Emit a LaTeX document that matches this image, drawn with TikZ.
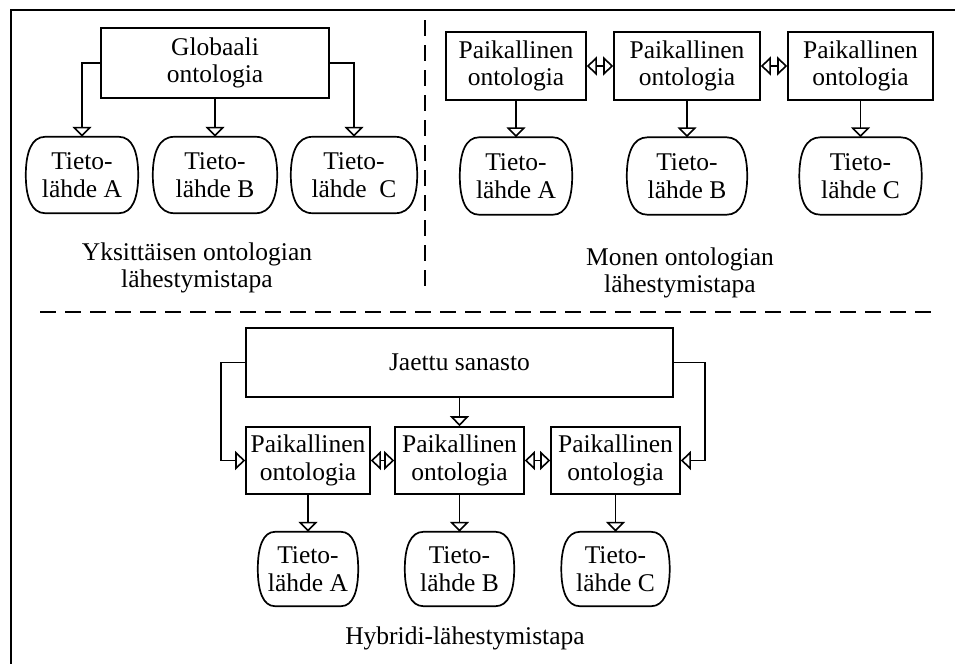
\documentclass[tikz,border=0pt]{standalone}
\usepackage{fontspec}
\setmainfont{Liberation Serif}
\usetikzlibrary{arrows.meta,calc}
\tikzset{
  txt/.style={font=\fontsize{25.5}{27.5}\selectfont, align=center, inner sep=0pt},
  box/.style={txt, draw, line width=1.7pt},
  blobtext/.style={txt},
  tip/.tip={Triangle[open,length=10pt,width=19pt,line width=1.6pt]},
  tri/.style={line width=1.7pt, -tip},
  dtri/.style={line width=1.7pt, tip-tip},
  sep/.style={line width=1.7pt, dash pattern=on 16pt off 9pt},
  blobline/.style={line width=1.7pt},
}
\newcommand\blob[6]{%
  \node[blobtext, minimum width=#4pt, minimum height=#5pt] (#1) at (#2,#3) {#6};
  \pgfmathsetmacro\blobA{#4/2}%
  \pgfmathsetmacro\blobH{#5/2}%
  \draw[blobline]
    ($(#1.north)+({-0.66*\blobA},0)$) -- ($(#1.north)+({0.66*\blobA},0)$)
    .. controls ($(#1.north)+({0.9*\blobA},0)$) and ($(#1.east)+(0,{-0.6*\blobH})$) .. (#1.east)
    .. controls ($(#1.east)+(0,{0.6*\blobH})$) and ($(#1.south)+({0.9*\blobA},0)$) .. ($(#1.south)+({0.66*\blobA},0)$)
    -- ($(#1.south)+({-0.66*\blobA},0)$)
    .. controls ($(#1.south)+({-0.9*\blobA},0)$) and ($(#1.west)+(0,{0.6*\blobH})$) .. (#1.west)
    .. controls ($(#1.west)+(0,{-0.6*\blobH})$) and ($(#1.north)+({-0.9*\blobA},0)$) .. cycle;
}
\begin{document}
\begin{tikzpicture}[x=1pt,y=-1pt]
\useasboundingbox (0,0) rectangle (955,664);
% frame
\coordinate (fTR) at (955,10);
\coordinate (fTL) at (11,10);
\coordinate (fBL) at (11,664);
\draw[line width=2.2pt] (fTR) -- (fTL) -- (fBL);
% separators
\coordinate (hs1) at (40,312);
\coordinate (hs2) at (935,312);
\draw[sep] (hs1) -- (hs2);
\coordinate (vs1) at (425,20);
\coordinate (vs2) at (425,292);
\draw[sep] (vs1) -- (vs2);

% ---- single ontology
\node[box, minimum width=228pt, minimum height=70pt] (glob) at (215,63) {Globaali\\ontologia};
\blob{sA}{82}{175}{112}{76}{Tieto-\\lähde A}
\blob{sB}{215}{175}{124}{76}{Tieto-\\lähde B}
\blob{sC}{354}{175}{126}{76}{Tieto-\\lähde\ \ C}
\draw[tri] (glob.west) -| (sA.north);
\draw[tri] (glob.south) -- (sB.north);
\draw[tri] (glob.east) -| (sC.north);
\node[txt] (cap1) at (197,268) {Yksittäisen ontologian\\lähestymistapa};

% ---- multiple ontologies
\node[box, minimum width=140pt, minimum height=68pt] (m1) at (516,66) {Paikallinen\\ontologia};
\node[box, minimum width=146pt, minimum height=68pt] (m2) at (687,66) {Paikallinen\\ontologia};
\node[box, minimum width=145pt, minimum height=68pt] (m3) at (860.5,66) {Paikallinen\\ontologia};
\blob{mA}{516}{176}{112}{77}{Tieto-\\lähde A}
\blob{mB}{687}{176}{120}{77}{Tieto-\\lähde B}
\blob{mC}{860.5}{176}{122}{77}{Tieto-\\lähde C}
\draw[dtri] (m1.east) -- (m2.west);
\draw[dtri] (m2.east) -- (m3.west);
\draw[tri] (m1.south) -- (mA.north);
\draw[tri] (m2.south) -- (mB.north);
\draw[tri] (m3.south) -- (mC.north);
\node[txt] (cap2) at (680,273) {Monen ontologian\\lähestymistapa};

% ---- hybrid
\node[box, minimum width=427pt, minimum height=69pt] (js) at (459.5,362.5) {Jaettu sanasto};
\node[box, minimum width=124pt, minimum height=67pt] (h1) at (308,460.5) {Paikallinen\\ontologia};
\node[box, minimum width=129pt, minimum height=67pt] (h2) at (459.5,460.5) {Paikallinen\\ontologia};
\node[box, minimum width=129pt, minimum height=67pt] (h3) at (615.5,460.5) {Paikallinen\\ontologia};
\blob{hA}{308}{569}{100}{74}{Tieto-\\lähde A}
\blob{hB}{459.5}{569}{109}{74}{Tieto-\\lähde B}
\blob{hC}{615.5}{569}{108}{74}{Tieto-\\lähde C}
\draw[tri] (js.west) -- ++(-24,0) |- (h1.west);
\draw[tri] (js.east) -- ++(31,0) |- (h3.east);
\draw[tri] (js.south) -- (h2.north);
\draw[dtri] (h1.east) -- (h2.west);
\draw[dtri] (h2.east) -- (h3.west);
\draw[tri] (h1.south) -- (hA.north);
\draw[tri] (h2.south) -- (hB.north);
\draw[tri] (h3.south) -- (hC.north);
\node[txt] (cap3) at (465,638) {Hybridi-lähestymistapa};
\end{tikzpicture}
\end{document}
